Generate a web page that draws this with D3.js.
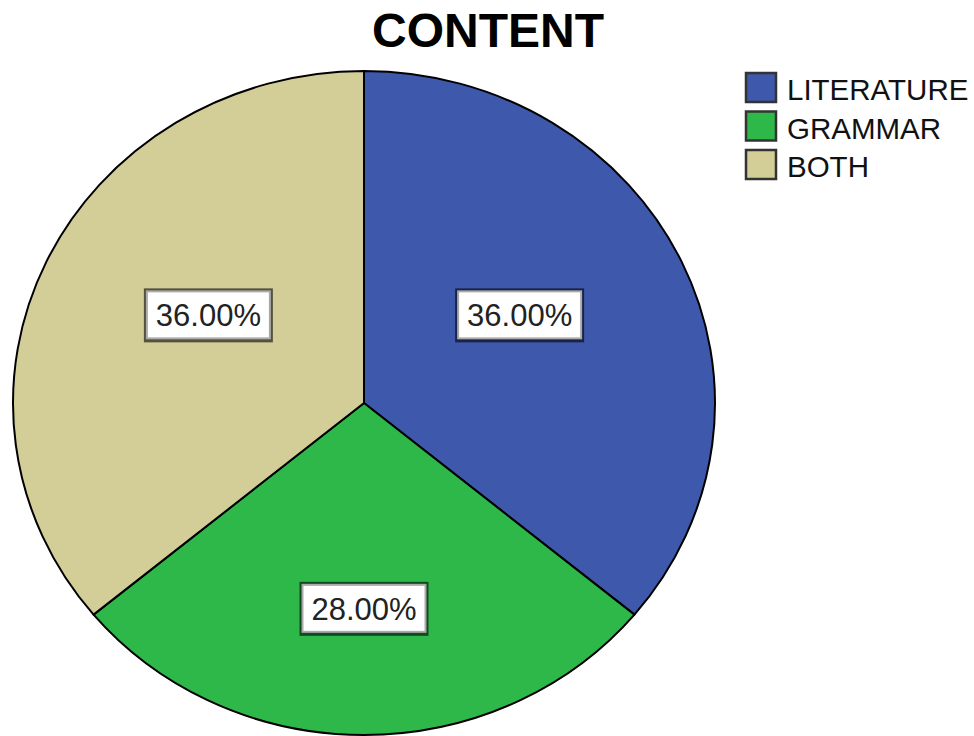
<!DOCTYPE html>
<html>
<head>
<meta charset="utf-8">
<script src="https://cdn.jsdelivr.net/npm/d3@7"></script>
<style>
  html, body { margin: 0; padding: 0; background: #fff; }
  svg { display: block; font-family: "Liberation Sans", Arial, sans-serif; }
</style>
</head>
<body>
<div id="chart"></div>
<script>
//Datos
const categorias = ['LITERATURE', 'GRAMMAR', 'BOTH'];
const valores = [36, 28, 36];
const colores = ['#3E58AC', '#2EB84A', '#D3CE97'];
const titulo = 'CONTENT';

const width = 974, height = 736;
const cx = 364, cy = 403, rx = 351, ry = 332;

let svg = d3.select('#chart')
    .append('svg')
    .attr('width', width)
    .attr('height', height);

//Titulo
svg.append('text')
    .attr('x', 488)
    .attr('y', 47)
    .attr('text-anchor', 'middle')
    .style('font-size', '48px')
    .style('font-weight', 'bold')
    .text(titulo);

let data = categorias.map((c, i) => ({ cat: c, value: valores[i], color: colores[i] }));

let pie = d3.pie().sort(null).value(d => d.value);
let arcs = pie(data);

let arc = d3.arc().innerRadius(0).outerRadius(ry);

//Pie (elipse: escala horizontal)
let g = svg.append('g')
    .attr('transform', `translate(${cx},${cy}) scale(${rx / ry},1)`);

g.selectAll('path')
    .data(arcs)
    .enter()
    .append('path')
    .attr('d', arc)
    .attr('fill', d => d.data.color)
    .attr('stroke', '#000')
    .attr('stroke-width', 2)
    .attr('vector-effect', 'non-scaling-stroke')
    .attr('stroke-linejoin', 'round');

//Etiquetas
let labelArc = d3.arc().innerRadius(ry).outerRadius(ry);
let total = d3.sum(valores);
let fmt = d3.format('.2f');

let lg = svg.append('g').attr('transform', `translate(${cx},${cy})`);

let labels = lg.selectAll('g.label')
    .data(arcs)
    .enter()
    .append('g')
    .attr('class', 'label')
    .attr('transform', function(d) {
        let c = labelArc.centroid(d);
        let px = c[0] * 0.49 * rx / ry;
        let py = c[1] * 0.62;
        return `translate(${px},${py})`;
    });

const bw = 129, bh = 54;
labels.append('rect')
    .attr('x', -bw / 2).attr('y', -bh / 2)
    .attr('width', bw).attr('height', bh)
    .attr('fill', 'rgba(0,0,0,0.6)');
labels.append('rect')
    .attr('x', -bw / 2 + 3).attr('y', -bh / 2 + 3)
    .attr('width', bw - 6).attr('height', bh - 7)
    .attr('fill', '#fff')
    .attr('stroke', '#aaa')
    .attr('stroke-width', 2);
labels.append('text')
    .attr('text-anchor', 'middle')
    .attr('y', 11)
    .style('font-size', '31px')
    .attr('fill', '#222')
    .text(d => fmt(d.data.value / total * 100) + '%');

//Leyenda
let legend = svg.append('g').attr('transform', 'translate(745,72)');
let items = legend.selectAll('g')
    .data(data)
    .enter()
    .append('g')
    .attr('transform', (d, i) => `translate(0,${i * 38.5})`);

items.append('rect')
    .attr('x', 1).attr('y', 1)
    .attr('width', 30).attr('height', 29)
    .attr('fill', d => d.color)
    .attr('stroke', '#333')
    .attr('stroke-width', 2.5);

items.append('text')
    .attr('x', 42)
    .attr('y', 28)
    .style('font-size', '29.5px')
    .attr('fill', '#111')
    .text(d => d.cat);
</script>
</body>
</html>
